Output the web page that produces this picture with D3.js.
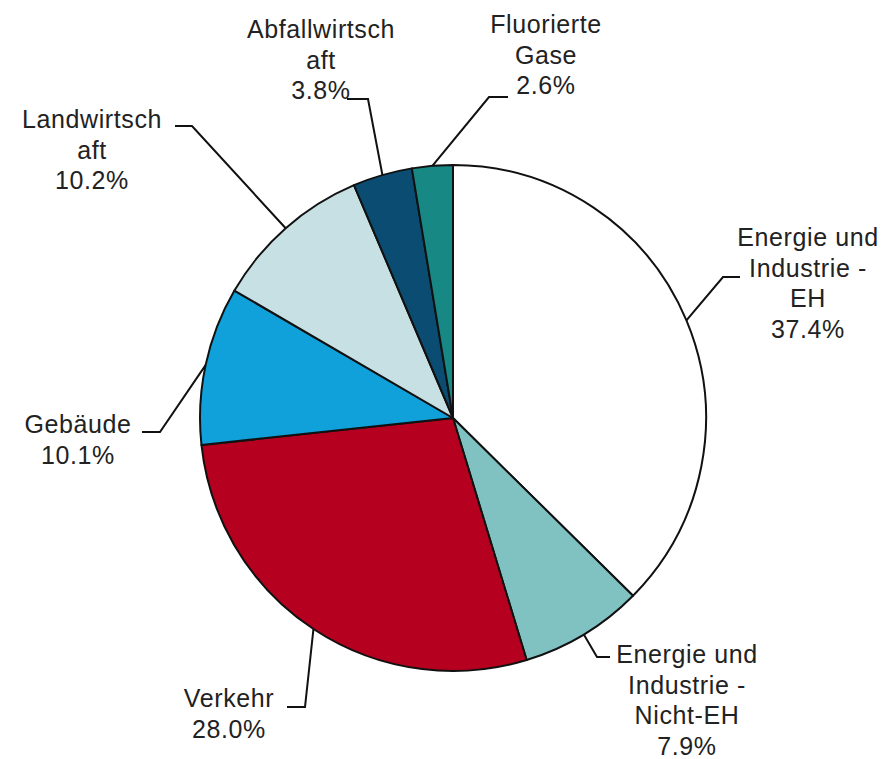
<!DOCTYPE html>
<html>
<head>
<meta charset="utf-8">
<script src="https://cdn.jsdelivr.net/npm/d3@7"></script>
<style>
  body { margin: 0; background: #fff; }
  svg { display: block; }
  .lbl { font-family: "Liberation Sans", Arial, sans-serif; font-size: 25px; fill: #222; letter-spacing: 0.6px; }
</style>
</head>
<body>
<div class="main"></div>
<script>
// data
const categories = [
  "Energie und Industrie - EH",
  "Energie und Industrie - Nicht-EH",
  "Verkehr",
  "Gebäude",
  "Landwirtschaft",
  "Abfallwirtschaft",
  "Fluorierte Gase"
];
const shares = [37.4, 7.9, 28.0, 10.1, 10.2, 3.8, 2.6];
const labelLines = [
  ["Energie und", "Industrie -", "EH"],
  ["Energie und", "Industrie -", "Nicht-EH"],
  ["Verkehr"],
  ["Gebäude"],
  ["Landwirtsch", "aft"],
  ["Abfallwirtsch", "aft"],
  ["Fluorierte", "Gase"]
];
const colors = ["#ffffff", "#80c2c2", "#b5001f", "#10a0da", "#c6e0e4", "#0b4d72", "#178884"];

// label layout: text centre x, first baseline, elbow point, end of horizontal stub
const labelPos = [
  {x: 808, y: 246, elbow: [723, 277], end: [740, 277]},
  {x: 687, y: 663, elbow: [597, 657], end: [610, 657]},
  {x: 229, y: 707, elbow: [305, 707], end: [287, 707]},
  {x: 78,  y: 433, elbow: [160, 432], end: [142, 432]},
  {x: 92,  y: 128, elbow: [192, 126], end: [175, 126]},
  {x: 321, y: 38,  elbow: [368, 99],  end: [347, 99]},
  {x: 546, y: 33,  elbow: [489, 97],  end: [508, 97]}
];

const w = 895, h = 759;
const cx = 453, cy = 418, r = 253;
const lineH = 30.5;

const svg = d3.select(".main").append("svg")
  .attr("width", w)
  .attr("height", h);

const pie = d3.pie().sort(null).value(d => d);
const arcs = pie(shares);
const arc = d3.arc().innerRadius(0).outerRadius(r);
const edge = d3.arc().innerRadius(r).outerRadius(r);

const g = svg.append("g").attr("transform", "translate(" + cx + "," + cy + ")");

g.selectAll("path.slice")
  .data(arcs)
  .enter()
  .append("path")
  .attr("class", "slice")
  .attr("d", arc)
  .attr("fill", (d, i) => colors[i])
  .attr("stroke", "#111")
  .attr("stroke-width", 2)
  .attr("stroke-linejoin", "round");

// leader lines
svg.selectAll("polyline.leader")
  .data(arcs)
  .enter()
  .append("polyline")
  .attr("class", "leader")
  .attr("points", (d, i) => {
    const p = edge.centroid(d);
    const L = labelPos[i];
    return [[p[0] + cx, p[1] + cy], L.elbow, L.end].map(q => q.join(",")).join(" ");
  })
  .attr("fill", "none")
  .attr("stroke", "#111")
  .attr("stroke-width", 2);

// labels
const fmt = d3.format(".1f");
svg.selectAll("text.lbl")
  .data(arcs)
  .enter()
  .append("text")
  .attr("class", "lbl")
  .attr("text-anchor", "middle")
  .each(function(d, i) {
    const t = d3.select(this);
    const lines = labelLines[i].concat([fmt(shares[i]) + "%"]);
    lines.forEach((s, k) => {
      t.append("tspan")
        .attr("x", labelPos[i].x)
        .attr("y", labelPos[i].y + k * lineH)
        .text(s);
    });
  });
</script>
</body>
</html>
